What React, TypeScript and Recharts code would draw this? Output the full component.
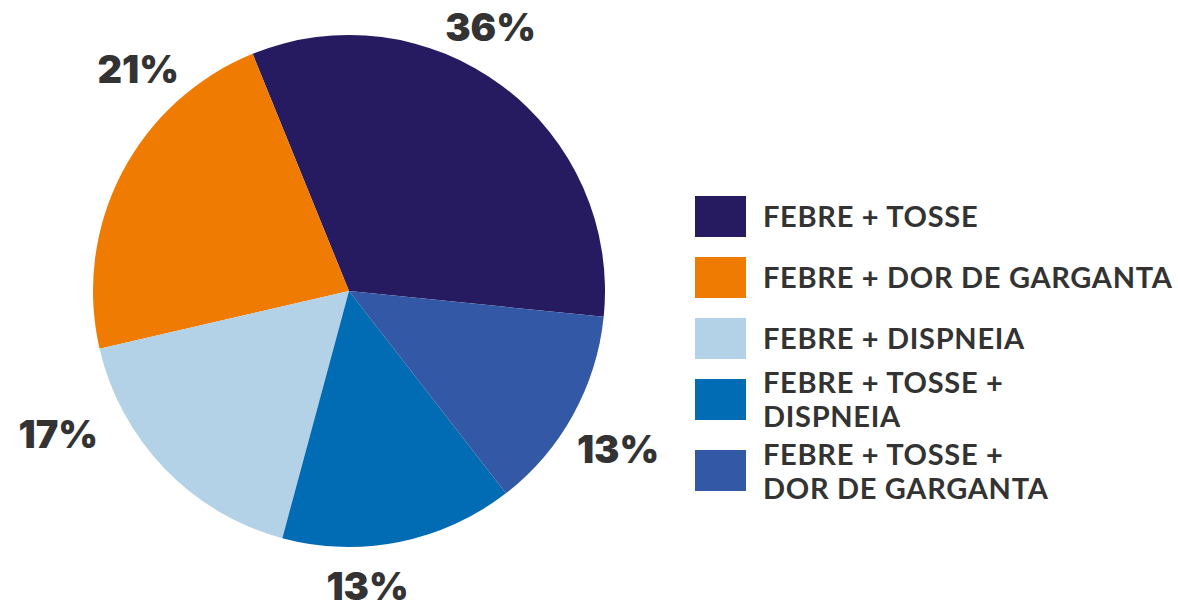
import React from 'react';
import { PieChart, Pie, Cell, Legend } from 'recharts';

// ---- data ----
const CATEGORIES = [
  'FEBRE + TOSSE',
  'FEBRE + DOR DE GARGANTA',
  'FEBRE + DISPNEIA',
  'FEBRE + TOSSE +\nDISPNEIA',
  'FEBRE + TOSSE +\nDOR DE GARGANTA',
];
// slice sizes as drawn in the picture (share of the circle, %)
const SLICE_VALUES = [32.75, 22.47, 17.19, 14.69, 12.89];
// printed percentage labels
const PERCENT_LABELS = ['36%', '21%', '17%', '13%', '13%'];
const COLORS = ['#261B60', '#EF7B03', '#B3D2E7', '#016BB4', '#3358A5'];

// ---- layout / style ----
const W = 1178;
const H = 608;
const LABEL_ANGLE_SHIFT = [8.65, -19.05, -17.65, -7.75, -1.4];
const LABEL_RADIUS_GAP = [43.6, 50.3, 68.4, 39.5, 56];
const LEGEND_ROW_HEIGHTS = [61, 61, 61, 61, 82];
const TEXT_COLOR = '#333333';

const chartData = CATEGORIES.map((name, i) => ({ name, value: SLICE_VALUES[i] }));

const LABEL_FONT = 38;

const renderLabel = (props: any) => {
  const { cx, cy, midAngle, outerRadius, index } = props;
  const a = ((midAngle + LABEL_ANGLE_SHIFT[index]) * Math.PI) / 180;
  const r = outerRadius + LABEL_RADIUS_GAP[index];
  const x = cx + r * Math.cos(a);
  const y = cy - r * Math.sin(a);
  return (
    <text
      key={`lbl-${index}`}
      x={x}
      y={y + LABEL_FONT * 0.36}
      textAnchor="middle"
      fill={TEXT_COLOR}
      style={{ fontFamily: 'Inter, sans-serif', fontWeight: 900, fontSize: LABEL_FONT }}
    >
      {PERCENT_LABELS[index]}
    </text>
  );
};

const renderLegend = (props: any) => {
  const payload = [...(props.payload || [])].sort(
    (a: any, b: any) => CATEGORIES.indexOf(a.value) - CATEGORIES.indexOf(b.value)
  );
  return (
    <div style={{ display: 'flex', flexDirection: 'column' }}>
      {payload.map((entry: any, i: number) => (
        <div
          key={`leg-${i}`}
          style={{
            display: 'flex',
            alignItems: 'center',
            height: LEGEND_ROW_HEIGHTS[i],
          }}
        >
          <div
            style={{
              width: 51,
              height: 41,
              background: entry.color,
              flex: '0 0 auto',
            }}
          />
          <div
            style={{
              marginLeft: 17,
              whiteSpace: 'pre-line',
              fontFamily: 'Lato, sans-serif',
              fontWeight: 700,
              fontSize: 29,
              lineHeight: '34px',
              color: TEXT_COLOR,
              letterSpacing: 0.7,
            }}
          >
            {entry.value}
          </div>
        </div>
      ))}
    </div>
  );
};

export default function App() {
  return (
    <div style={{ position: 'absolute', left: 0, top: 0, width: W, height: H, background: '#fff' }}>
      <PieChart width={W} height={H} margin={{ top: 0, right: 0, bottom: 0, left: 0 }}>
        <Pie
          data={chartData}
          dataKey="value"
          nameKey="name"
          cx={349}
          cy={291}
          outerRadius={256}
          startAngle={-5.8}
          endAngle={354.2}
          stroke="none"
          label={renderLabel}
          labelLine={false}
          isAnimationActive={false}
        >
          {chartData.map((_, i) => (
            <Cell key={`c-${i}`} fill={COLORS[i]} />
          ))}
        </Pie>
        <Legend
          layout="vertical"
          align="right"
          verticalAlign="middle"
          content={renderLegend}
          wrapperStyle={{ left: 695, top: 185.5, width: 480 }}
        />
      </PieChart>
    </div>
  );
}
